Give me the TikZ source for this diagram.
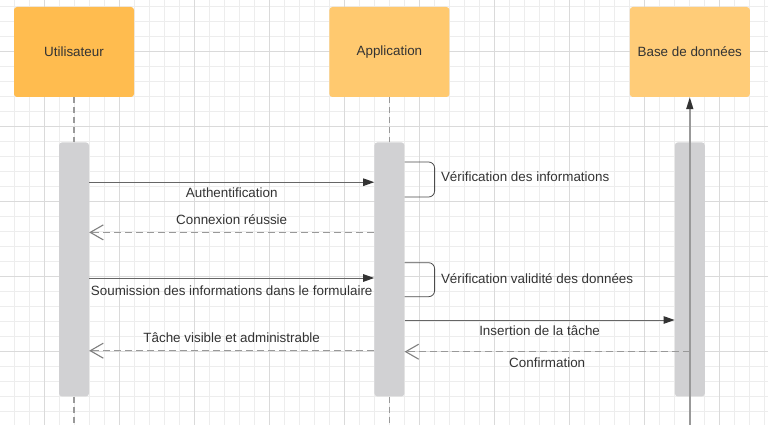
\documentclass[tikz,border=0pt]{standalone}
\usepackage{fontspec}
\setmainfont{Liberation Sans}
\usetikzlibrary{positioning,arrows.meta}
\definecolor{userfill}{HTML}{FFBC4F}
\definecolor{appfill}{HTML}{FFC96F}
\definecolor{dbfill}{HTML}{FFCC78}
\definecolor{barfill}{HTML}{D1D1D3}
\definecolor{gridminor}{HTML}{EDEDED}
\definecolor{gridmajor}{HTML}{DADADA}
\definecolor{ink}{HTML}{333333}

\begin{document}
\begin{tikzpicture}[x=1pt,y=-1pt,
font=\fontsize{13.4pt}{16pt}\selectfont,
actor/.style={rounded corners=3pt, minimum width=120pt, minimum height=90pt, inner sep=0pt, text=ink},
bar/.style={rounded corners=3pt, fill=barfill, minimum width=30pt, minimum height=254pt, inner sep=0pt},
lifeline/.style={draw=black!40, line width=1.2pt, dash pattern=on 6pt off 4pt},
dbline/.style={draw=black!40, line width=1.4pt, -{Triangle[length=12pt,width=7pt,color=ink]}},
call/.style={draw=black!60, line width=1pt, -{Triangle[length=11pt,width=7.5pt,color=ink]}},
reply/.style={draw=black!40, line width=1.1pt, dash pattern=on 7pt off 4pt, -{Straight Barb[length=13pt,width=15pt,color=black!50]}},
selfloop/.style={draw=black!70, line width=0.8pt, rounded corners=6pt},
msg/.style={text=ink, text height=9.6pt, text depth=0pt, inner sep=0pt},
]

\path[fill=white, use as bounding box] (0,0) rectangle (768,425);
\foreach \i in {0,...,50} \draw[gridminor, line width=0.8pt] ({14.3+15*\i},0) -- ({14.3+15*\i},425);
\foreach \i in {0,...,27} \draw[gridminor, line width=0.8pt] (0,{6+15*\i}) -- (768,{6+15*\i});
\foreach \i in {0,...,9} \draw[gridmajor, line width=0.8pt] ({44.3+75*\i},0) -- ({44.3+75*\i},425);
\foreach \i in {0,...,4} \draw[gridmajor, line width=0.8pt] (0,{51+75*\i}) -- (768,{51+75*\i});

\node[actor, fill=userfill] (user) at (74,52) {Utilisateur};
\node[actor, fill=appfill, right=195pt of user] (app) {Application};
\node[actor, fill=dbfill, right=180pt of app] (db) {Base de données};

\node[bar, below=45pt of user] (userbar) {};
\node[bar, below=45pt of app] (appbar) {};
\node[bar, below=45pt of db] (dbbar) {};

\coordinate (bottom) at (0,425);
\coordinate (auth) at (0,182.2);
\coordinate (check1) at (0,162);
\coordinate (conn) at (0,232.4);
\coordinate (check2) at (0,262.7);
\coordinate (subm) at (0,278);
\coordinate (ins) at (0,320);
\coordinate (done) at (0,350.7);
\coordinate (conf) at (0,351.7);

\path
(user) edge[lifeline] (userbar)
(app) edge[lifeline] (appbar)
(userbar.south) edge[lifeline] (userbar.south |- bottom)
(appbar.south) edge[lifeline] (appbar.south |- bottom)
;
\draw[dbline] (db.south |- bottom) -- (db.south);

\path
(userbar.east |- auth) edge[call] node[msg, below=4.8pt] {Authentification} (appbar.west |- auth)
(appbar.west |- conn) edge[reply] node[msg, above=7.5pt] {Connexion réussie} (userbar.east |- conn)
(userbar.east |- subm) edge[call] node[msg, below=7.5pt] {Soumission des informations dans le formulaire} (appbar.west |- subm)
(appbar.east |- ins) edge[call] node[msg, below=5.2pt] {Insertion de la tâche} (dbbar.west |- ins)
(appbar.west |- done) edge[reply] node[msg, above=7.6pt] {Tâche visible et administrable} (userbar.east |- done)
(db.south |- conf) edge[reply] node[msg, below=5.2pt] {Confirmation} (appbar.east |- conf)
;

\draw[selfloop] (appbar.east |- check1) -- ++(30,0) -- ++(0,35) node[msg, midway, right=6pt, yshift=2.5pt] {Vérification des informations} -- ++(-30,0);
\draw[selfloop] (appbar.east |- check2) -- ++(30,0) -- ++(0,34) node[msg, midway, right=6pt, yshift=1.5pt] {Vérification validité des données} -- ++(-30,0);
\end{tikzpicture}
\end{document}
